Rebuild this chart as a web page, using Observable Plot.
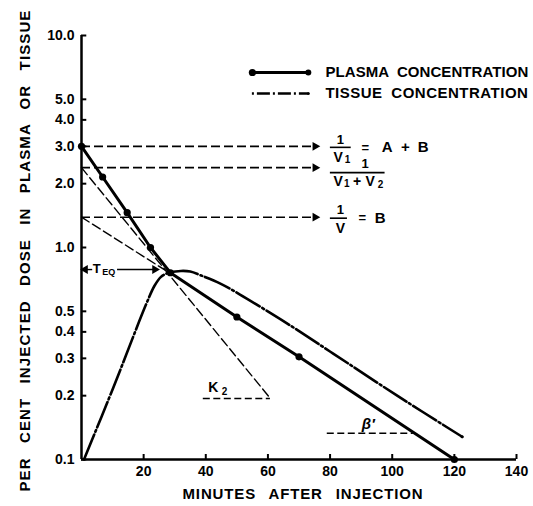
<!DOCTYPE html>
<html><head><meta charset="utf-8">
<script src="https://cdn.jsdelivr.net/npm/d3@7"></script>
<script src="https://cdn.jsdelivr.net/npm/@observablehq/plot@0.6"></script>
<style>
html,body{margin:0;padding:0;background:#fff;overflow:hidden;}
#chart{width:533px;height:506px;overflow:hidden;}
</style></head><body><div id="chart"></div>
<script>
// ---- data ----
const plasmaTime = [0, 6.8, 14.7, 22.2, 28.6, 50, 70, 120];
const plasmaConc = [3.0, 2.15, 1.46, 1.0, 0.76, 0.47, 0.305, 0.1];
const tissueTime = [0.8, 10, 20.9, 23.5, 25.5, 28, 32, 35, 38.3, 44.7, 51, 58.5, 66, 81, 101.6, 122.5];
const tissueConc = [0.1, 0.214, 0.544, 0.66, 0.725, 0.76, 0.775, 0.77, 0.74, 0.676, 0.6, 0.515, 0.44, 0.316, 0.2, 0.128];
const yTicks = [0.1, 0.2, 0.3, 0.4, 0.5, 1, 2, 3, 4, 5, 10];
const yTickLabels = ["0.1", "0.2", "0.3", "0.4", "0.5", "1.0", "2.0", "3.0", "4.0", "5.0", "10.0"];
const xTicks = [20, 40, 60, 80, 100, 120, 140];
const xTickLabels = ["20", "40", "60", "80", "100", "120", "140"];
const interceptLevels = [3.0, 2.38, 1.39];   // 1/V1 = A+B, 1/(V1+V2), 1/V = B
const k2Time = [0, 60.8];
const k2Conc = [2.38, 0.194];
const betaTime = [0, 28.6];
const betaConc = [1.39, 0.754];
const k2BaseLevel = 0.194;
const betaBaseLevel = 0.133;
const teqLevel = 0.787;
const yLabel = "PER CENT INJECTED DOSE IN PLASMA OR TISSUE";
const xLabel = "MINUTES AFTER INJECTION";
const legendLabels = ["PLASMA CONCENTRATION", "TISSUE CONCENTRATION"];

const plasma = plasmaTime.map((t, i) => ({t, c: plasmaConc[i]}));
const tissue = tissueTime.map((t, i) => ({t, c: tissueConc[i]}));
const k2 = k2Time.map((t, i) => ({t, c: k2Conc[i]}));
const beta = betaTime.map((t, i) => ({t, c: betaConc[i]}));

const B = {fontWeight: "bold", fill: "black"};
const txt = (s, x, y, o = {}) => Plot.text([s], {x, y, text: d => d, fontSize: 15, ...B, ...o});
const dash = "9,4";
const arrowHead = (x, y, rot) => Plot.dot([y], {x, y: d => d, symbol: "triangle", r: 3.3, fill: "black", stroke: null, rotate: rot});

const chart = Plot.plot({
  width: 533, height: 506,
  marginLeft: 81, marginRight: 17, marginTop: 35, marginBottom: 47,
  x: {domain: [0, 140], axis: null},
  y: {type: "log", domain: [0.1, 10], axis: null},
  style: {fontFamily: "'Liberation Sans', Arial, sans-serif", background: "white", color: "black"},
  marks: [
    // axes
    Plot.ruleX([0], {y1: 0.1, y2: 10, strokeWidth: 2.5}),
    Plot.ruleY([0.1], {x1: 0, x2: 140, strokeWidth: 2.5}),
    Plot.ruleY(yTicks, {x1: 0, x2: 1.7, strokeWidth: 2}),
    Plot.ruleX(xTicks, {y1: 0.1, y2: 0.1056, strokeWidth: 2}),
    Plot.text(yTicks, {x: 0, y: d => d, text: (d, i) => yTickLabels[i], textAnchor: "end", dx: -7, fontSize: 14, ...B}),
    Plot.text(xTicks, {x: d => d, y: 0.1, text: (d, i) => xTickLabels[i], dy: 12, fontSize: 14, ...B}),
    Plot.text([yLabel], {frameAnchor: "left", textAnchor: "middle", rotate: -90, dx: -56, dy: 3, text: d => d, fontSize: 15, ...B}),
    Plot.text([xLabel], {frameAnchor: "bottom", textAnchor: "middle", dx: 4, dy: 39, text: d => d, fontSize: 15, ...B}),

    // intercept arrows
    Plot.ruleY(interceptLevels, {x1: 0, x2: 74.5, strokeWidth: 1.6, strokeDasharray: dash}),
    Plot.dot(interceptLevels, {x: 75.2, y: d => d, symbol: "triangle", r: 3.3, fill: "black", stroke: null, rotate: 90}),
    // K2 and beta extrapolations
    Plot.line(k2, {x: "t", y: "c", strokeWidth: 1.4, strokeDasharray: dash}),
    Plot.ruleY([k2BaseLevel], {x1: 39.2, x2: 60.8, strokeWidth: 1.6, strokeDasharray: "7,3.5"}),
    Plot.line(beta, {x: "t", y: "c", strokeWidth: 1.4, strokeDasharray: dash}),
    Plot.ruleY([betaBaseLevel], {x1: 79.1, x2: 106.8, strokeWidth: 1.6, strokeDasharray: "7,3.5"}),
    // T_EQ arrow
    Plot.ruleY([teqLevel], {x1: 0.6, x2: 3.6, strokeWidth: 1.4}),
    Plot.ruleY([teqLevel], {x1: 11.6, x2: 23.3, strokeWidth: 1.4}),
    arrowHead(1.2, teqLevel, -90),
    arrowHead(23.6, teqLevel, 90),
    txt("T", 4.9, teqLevel, {dy: -1, fontSize: 13}),
    txt("EQ", 8.8, teqLevel, {dy: 3, fontSize: 9}),

    // tissue curve
    Plot.line(tissue, {x: "t", y: "c", curve: "catmull-rom", strokeWidth: 2.6, strokeDasharray: "27,3,2,3"}),
    Plot.dot(tissue.slice(-1), {x: "t", y: "c", r: 1.6, fill: "black", stroke: null}),
    // plasma curve
    Plot.line(plasma, {x: "t", y: "c", strokeWidth: 3}),
    Plot.dot(plasma, {x: "t", y: "c", r: 3.6, fill: "black", stroke: null}),

    // formula 1: 1/V1 = A + B
    txt("1", 83.3, 3.0, {dy: -7, fontSize: 13}),
    Plot.ruleY([3.0], {x1: 80.1, x2: 86.8, dy: 1, strokeWidth: 1.6}),
    txt("V", 82.6, 3.0, {dy: 11, fontSize: 14}),
    txt("1", 85.6, 3.0, {dy: 13, fontSize: 10}),
    txt("=", 91.3, 3.0, {dy: 1, fontSize: 13}),
    txt("A", 98.4, 3.0, {dy: 1, fontSize: 15}),
    txt("+", 104.2, 3.0, {dy: 1, fontSize: 15}),
    txt("B", 110, 3.0, {dy: 1, fontSize: 15}),
    // formula 2: 1/(V1+V2)
    txt("1", 91.3, 2.38, {dy: -4, fontSize: 13}),
    Plot.ruleY([2.38], {x1: 80.1, x2: 97.7, dy: 5, strokeWidth: 1.6}),
    txt("V", 82.6, 2.38, {dy: 14, fontSize: 14}),
    txt("1", 85.4, 2.38, {dy: 16, fontSize: 10}),
    txt("+", 88.7, 2.38, {dy: 14, fontSize: 14}),
    txt("V", 92.9, 2.38, {dy: 14, fontSize: 14}),
    txt("2", 96.2, 2.38, {dy: 17, fontSize: 10}),
    // formula 3: 1/V = B
    txt("1", 83.3, 1.39, {dy: -7, fontSize: 13}),
    Plot.ruleY([1.39], {x1: 80.1, x2: 85.6, dy: 1, strokeWidth: 1.6}),
    txt("V", 83.3, 1.39, {dy: 11, fontSize: 14}),
    txt("=", 90.4, 1.39, {dy: 1, fontSize: 13}),
    txt("B", 96.1, 1.39, {dy: 1, fontSize: 15}),
    // K2 and beta' labels
    txt("K", 42.4, k2BaseLevel, {dy: -11, fontSize: 14}),
    txt("2", 46.0, k2BaseLevel, {dy: -7, fontSize: 10}),
    txt("β′", 92.3, betaBaseLevel, {dy: -9, fontSize: 15, fontStyle: "italic"}),

    // legend
    Plot.ruleY([6.69], {x1: 55, x2: 73, strokeWidth: 3}),
    Plot.dot([55], {x: d => d, y: 6.69, r: 3.6, fill: "black", stroke: null}),
    Plot.dot([73], {x: d => d, y: 6.69, r: 3.0, fill: "black", stroke: null}),
    Plot.ruleY([5.33], {x1: 55, x2: 73, strokeWidth: 2.4, strokeDasharray: "2,3,13,3"}),
    Plot.dot([73], {x: d => d, y: 5.33, r: 1.5, fill: "black", stroke: null}),
    Plot.text(legendLabels, {x: 78.5, y: (d, i) => [6.69, 5.33][i], text: d => d, textAnchor: "start", fontSize: 15, ...B})
  ]
});
document.getElementById("chart").appendChild(chart);

// spread letters of long labels to match reference spacing
function fit(str, target, wordSpacing) {
  d3.select(chart).selectAll("text").filter(function () { return this.textContent === str; }).each(function () {
    this.style.wordSpacing = wordSpacing + "px";
    this.style.letterSpacing = "0px";
    const len = this.getComputedTextLength();
    this.style.letterSpacing = ((target - len) / str.length) + "px";
  });
}
fit(yLabel, 482, 9);
fit(xLabel, 241, 8);
fit(legendLabels[1], 203, 4);
fit(legendLabels[0], 203, 4);
</script></body></html>
